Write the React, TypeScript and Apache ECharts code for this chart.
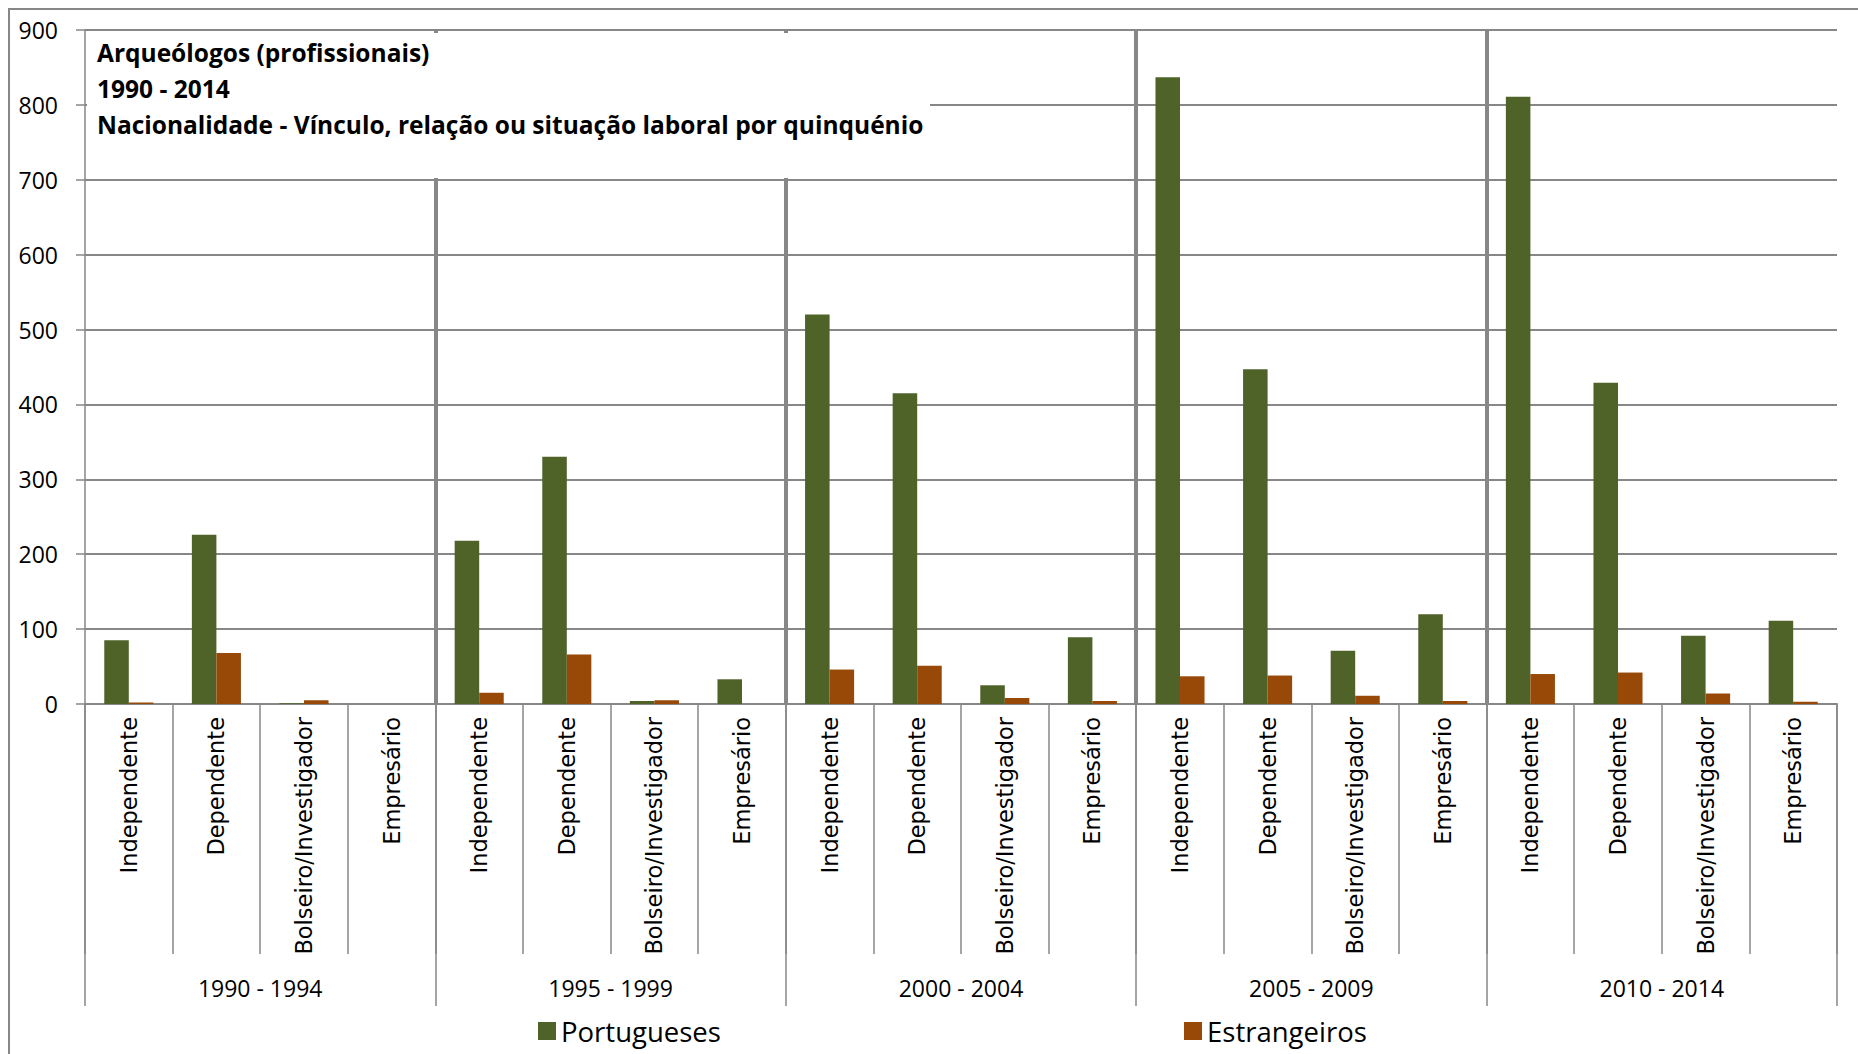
import React, { useEffect, useRef } from 'react';
import * as echarts from 'echarts';

const periods = ['1990 - 1994', '1995 - 1999', '2000 - 2004', '2005 - 2009', '2010 - 2014'];
const situations = ['Independente', 'Dependente', 'Bolseiro/Investigador', 'Empresário'];
const portugueses = [85, 226, 1, 0, 218, 330, 4, 33, 520, 415, 25, 89, 837, 447, 71, 120, 811, 429, 91, 111];
const estrangeiros = [2, 68, 5, 0, 15, 66, 5, 0, 46, 51, 8, 4, 37, 38, 11, 4, 40, 42, 14, 3];
const seriesNames = ['Portugueses', 'Estrangeiros'];
const titleLines = [
  'Arqueólogos (profissionais)',
  '1990 - 2014',
  'Nacionalidade - Vínculo, relação ou situação laboral por quinquénio',
];
const yMin = 0;
const yMax = 900;
const yStep = 100;

const GRAY = '#878787';
const FONT = '"Open Sans", "DejaVu Sans", sans-serif';

export default function App() {
  const ref = useRef<HTMLDivElement>(null);
  useEffect(() => {
    const chart = echarts.init(ref.current as HTMLDivElement, null, { renderer: 'svg' });
    const categoryLabels = periods.flatMap(() => situations);
    const titleY = [52, 88, 124];
    const legendText = { fontFamily: FONT, fontSize: 27.5, color: '#000' };
    chart.setOption({
      animation: false,
      backgroundColor: '#fff',
      grid: { left: 85, right: 21, top: 30, bottom: 350, containLabel: false },
      legend: [
        {
          data: [seriesNames[0]],
          left: 538,
          top: 1017,
          padding: 0,
          icon: 'rect',
          itemWidth: 18,
          itemHeight: 18,
          textStyle: legendText,
        },
        {
          data: [seriesNames[1]],
          left: 1184,
          top: 1017,
          padding: 0,
          icon: 'rect',
          itemWidth: 18,
          itemHeight: 18,
          textStyle: legendText,
        },
      ],
      xAxis: [
        {
          type: 'category',
          data: categoryLabels,
          position: 'bottom',
          axisLine: { show: true, lineStyle: { color: GRAY, width: 2 } },
          axisTick: { show: true, interval: 0, alignWithLabel: false, length: 250, lineStyle: { color: GRAY, width: 1.5 } },
          axisLabel: {
            interval: 0,
            rotate: 90,
            margin: 13,
            fontFamily: 'DejaVu Sans',
            fontSize: 22.5,
            color: '#000',
          },
          splitLine: { show: false },
        },
        {
          type: 'category',
          data: periods,
          position: 'bottom',
          axisLine: { show: false },
          axisTick: { show: true, interval: 0, alignWithLabel: false, length: 302, lineStyle: { color: GRAY, width: 1.5 } },
          axisLabel: { interval: 0, margin: 272, fontFamily: FONT, fontSize: 23, color: '#000' },
          splitLine: {
            show: true,
            interval: 0,
            showMinLine: false,
            showMaxLine: false,
            lineStyle: { color: GRAY, width: 4 },
          },
        },
      ],
      yAxis: {
        type: 'value',
        min: yMin,
        max: yMax,
        interval: yStep,
        axisLine: { show: true, lineStyle: { color: GRAY, width: 1.5 } },
        axisTick: { show: true, length: 9, lineStyle: { color: GRAY, width: 1.5 } },
        axisLabel: { margin: 27, fontFamily: FONT, fontSize: 23, color: '#000' },
        splitLine: { show: true, lineStyle: { color: GRAY, width: 2 } },
      },
      series: [
        {
          name: seriesNames[0],
          type: 'bar',
          xAxisIndex: 0,
          data: portugueses,
          barGap: '0%',
          barCategoryGap: '44%',
          itemStyle: { color: '#4F6228' },
        },
        {
          name: seriesNames[1],
          type: 'bar',
          xAxisIndex: 0,
          data: estrangeiros,
          barGap: '0%',
          barCategoryGap: '44%',
          itemStyle: { color: '#984807' },
        },
      ],
      graphic: [
        {
          type: 'rect',
          z: 100,
          silent: true,
          shape: { x: 9, y: 9, width: 1900, height: 1100 },
          style: { fill: 'none', stroke: GRAY, lineWidth: 2 },
        },
        {
          type: 'rect',
          z: 100,
          silent: true,
          shape: { x: 87, y: 33, width: 843, height: 145 },
          style: { fill: '#fff' },
        },
        ...titleLines.map((t, i) => ({
          type: 'text',
          z: 101,
          silent: true,
          x: 97,
          y: titleY[i],
          style: {
            text: t,
            fill: '#000',
            fontFamily: FONT,
            fontWeight: 'bold',
            fontSize: 24.5,
            verticalAlign: 'middle',
          },
        })),
      ],
    });
    return () => chart.dispose();
  }, []);
  return (
    <div
      ref={ref}
      style={{ position: 'fixed', left: 0, top: 0, width: 1858, height: 1054, background: '#fff' }}
    />
  );
}
